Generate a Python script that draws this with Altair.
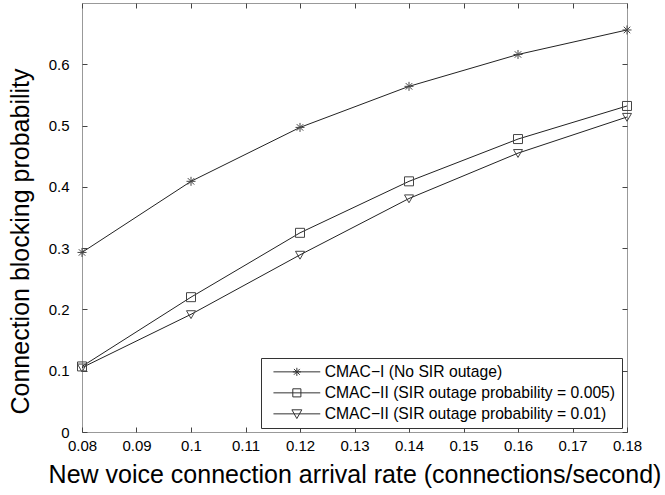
import altair as alt
import pandas as pd

# ---- data ----
rates = [0.08, 0.10, 0.12, 0.14, 0.16, 0.18]
cmac1 = [0.293, 0.409, 0.497, 0.564, 0.616, 0.656]
cmac2_005 = [0.107, 0.220, 0.325, 0.409, 0.478, 0.532]
cmac2_01 = [0.105, 0.192, 0.289, 0.381, 0.455, 0.514]

series_names = [
    "CMAC\u2212I (No SIR outage)",
    "CMAC\u2212II (SIR outage probability = 0.005)",
    "CMAC\u2212II (SIR outage probability = 0.01)",
]
x_ticks = [0.08, 0.09, 0.10, 0.11, 0.12, 0.13, 0.14, 0.15, 0.16, 0.17, 0.18]
y_ticks = [0.0, 0.1, 0.2, 0.3, 0.4, 0.5, 0.6]

rows = []
for name, vals in zip(series_names, [cmac1, cmac2_005, cmac2_01]):
    for x, y in zip(rates, vals):
        rows.append({"rate": x, "p": y, "series": name, "legend": name})
df = pd.DataFrame(rows)

FONT = "Liberation Sans"

# marker paths (unit square)
asterisk = "M-1,0L1,0M0,-1L0,1M-0.72,-0.72L0.72,0.72M-0.72,0.72L0.72,-0.72"
square = "M-1,-1L1,-1L1,1L-1,1Z"
tri_down = "M-1,-0.8L1,-0.8L0,0.95Z"

# legend symbols: horizontal line + marker (size 81 -> 4.5px per unit)
L = "M-5.2,0L5.2,0"
leg_asterisk = L + "M-0.9,0L0.9,0M0,-0.9L0,0.9M-0.65,-0.65L0.65,0.65M-0.65,0.65L0.65,-0.65"
leg_square = L + "M-0.9,-0.9L0.9,-0.9L0.9,0.9L-0.9,0.9Z"
leg_tri = L + "M-1.1,-0.9L1.1,-0.9L0,1.05Z"

x_enc = alt.X(
    "rate:Q",
    scale=alt.Scale(domain=[0.08, 0.18], nice=False, zero=False),
    axis=alt.Axis(
        values=x_ticks, format="~g", title="New voice connection arrival rate (connections/second)",
        domain=False, ticks=False, grid=True, gridColor="#444", gridWidth=1,
        gridDash=[5, 419, 5], labelFont=FONT, labelFontSize=15, labelColor="#000",
        labelPadding=6, labelFlush=False, titleFont=FONT, titleFontSize=25,
        titleFontWeight="normal", titleColor="#000", titlePadding=9,
    ),
)
y_enc = alt.Y(
    "p:Q",
    scale=alt.Scale(domain=[0, 0.7], nice=False),
    axis=alt.Axis(
        values=y_ticks, format="~g", title="Connection blocking probability",
        domain=False, ticks=False, grid=True, gridColor="#444", gridWidth=1,
        gridDash=[5, 535, 5], labelFont=FONT, labelFontSize=15, labelColor="#000",
        labelPadding=13, labelFlush=False, titleFont=FONT, titleFontSize=25,
        titleFontWeight="normal", titleColor="#000", titlePadding=15,
        titleY=238,
    ),
)

lines = alt.Chart(df).mark_line(color="#222", strokeWidth=1, clip=False).encode(
    x=x_enc, y=y_enc, detail="series:N"
)

points = alt.Chart(df).mark_point(
    filled=False, color="#444", strokeWidth=1, opacity=1, clip=False
).encode(
    x=x_enc, y=y_enc,
    shape=alt.Shape(
        "series:N",
        scale=alt.Scale(domain=series_names, range=[asterisk, square, tri_down]),
        legend=None,
    ),
    size=alt.Size(
        "series:N",
        scale=alt.Scale(domain=series_names, range=[81, 81, 121]),
        legend=None,
    ),
)

legend_layer = alt.Chart(df).mark_point(
    filled=False, color="#333", strokeWidth=1, opacity=0, size=81
).encode(
    x=x_enc, y=y_enc,
    shape=alt.Shape(
        "legend:N",
        scale=alt.Scale(domain=series_names, range=[leg_asterisk, leg_square, leg_tri]),
        legend=alt.Legend(
            title=None, orient="none", legendX=179, legendY=355,
            strokeColor="#333", fillColor="#fff", padding=6,
            symbolSize=81, symbolOpacity=1, symbolStrokeColor="#333",
            symbolFillColor="transparent", symbolStrokeWidth=1,
            symbolOffset=22, labelOffset=20, rowPadding=4,
            labelFont=FONT, labelFontSize=15.7, labelColor="#000", labelLimit=0,
        ),
    ),
)

chart = (
    alt.layer(lines, points, legend_layer)
    .resolve_scale(shape="independent", size="independent")
    .properties(
        width=545, height=429,
        padding={"left": 82, "top": 3, "right": 38, "bottom": 63},
        autosize=alt.AutoSizeParams(type="none"),
        background="#fff",
    )
    .configure_view(stroke="#999", strokeWidth=1)
)

chart.save("out.html", embed_options={"renderer": "svg", "actions": False})
